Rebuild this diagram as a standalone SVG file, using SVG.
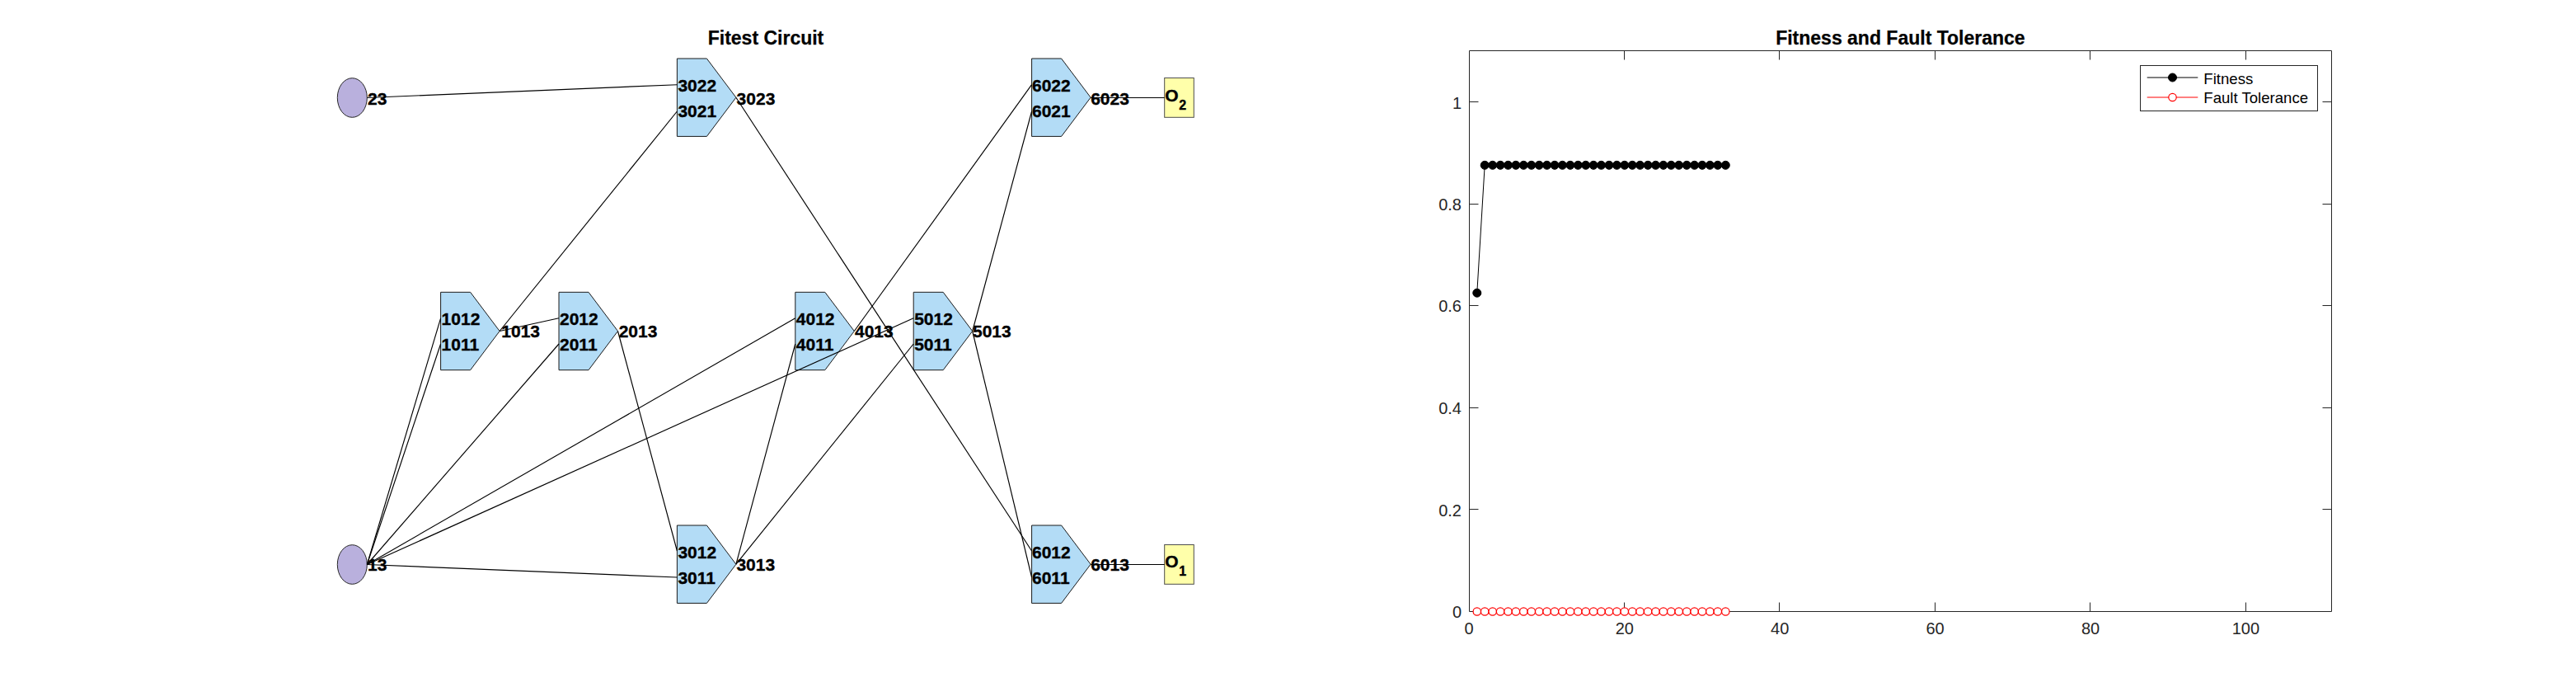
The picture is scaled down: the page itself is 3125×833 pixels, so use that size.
<svg xmlns="http://www.w3.org/2000/svg" width="3125" height="833" viewBox="0 0 3125 833">
<style>
text{font-family:"Liberation Sans",Arial,sans-serif;fill:#000}
.lb{font-size:21px;font-weight:bold;stroke:#000;stroke-width:.35}
.sub{font-size:16px;font-weight:bold;stroke:#000;stroke-width:.35}
.title{font-size:23px;font-weight:bold;text-anchor:middle;stroke:#000;stroke-width:.25}
.gate{fill:#b3dcf6;stroke:#1a1a1a;stroke-width:1}
.pi{fill:#b9b0dd;stroke:#262626;stroke-width:1}
.po{fill:#ffffaa;stroke:#4d4d4d;stroke-width:1}
.wire{fill:none;stroke:#000;stroke-width:1.15}
.ax{fill:none;stroke:#262626;stroke-width:1}
.tk{font-size:20px;fill:#262626}
.tx{text-anchor:middle}
.ty{text-anchor:end}
.lg{font-size:18.6px;fill:#000}
</style>
<defs>
<polygon id="gateShape" class="gate" points="0,0 36,0 71.5,47.2 36,94.4 0,94.4"/>
<circle id="fit" r="5" fill="#000" stroke="#000"/>
<circle id="ft" r="4.7" fill="#fff" stroke="#f00" stroke-width="1.2"/>
</defs>
<rect width="3125" height="833" fill="#fff"/>
<text class="title" x="929" y="53.6">Fitest Circuit</text>
<g id="nodes">
<g id="input23"><ellipse class="pi" cx="427.3" cy="118.5" rx="18" ry="23.8"/><text class="lb" x="446" y="126.7">23</text></g>
<g id="input13"><ellipse class="pi" cx="427.3" cy="684.5" rx="18" ry="23.8"/><text class="lb" x="446" y="692">13</text></g>
<g id="gate1"><use href="#gateShape" x="534.6" y="354.3"/><text class="lb" x="535.6" y="393.7">1012</text><text class="lb" x="535.6" y="425">1011</text><text class="lb" x="608.3" y="408.7">1013</text></g>
<g id="gate2"><use href="#gateShape" x="678" y="354.3"/><text class="lb" x="679" y="393.7">2012</text><text class="lb" x="679" y="425">2011</text><text class="lb" x="750.7" y="408.7">2013</text></g>
<g id="gate3top"><use href="#gateShape" x="821.4" y="71"/><text class="lb" x="822.4" y="110.7">3022</text><text class="lb" x="822.4" y="142">3021</text><text class="lb" x="893.6" y="126.7">3023</text></g>
<g id="gate3bottom"><use href="#gateShape" x="821.4" y="637"/><text class="lb" x="822.4" y="676.7">3012</text><text class="lb" x="822.4" y="708">3011</text><text class="lb" x="893.4" y="691.8">3013</text></g>
<g id="gate4"><use href="#gateShape" x="964.8" y="354.3"/><text class="lb" x="965.8" y="393.7">4012</text><text class="lb" x="965.8" y="425">4011</text><text class="lb" x="1037" y="408.7">4013</text></g>
<g id="gate5"><use href="#gateShape" x="1108.2" y="354.3"/><text class="lb" x="1109.2" y="393.7">5012</text><text class="lb" x="1109.2" y="425">5011</text><text class="lb" x="1180" y="408.7">5013</text></g>
<g id="gate6top"><use href="#gateShape" x="1251.6" y="71"/><text class="lb" x="1252" y="110.7">6022</text><text class="lb" x="1252" y="142">6021</text><text class="lb" x="1323.2" y="126.7">6023</text></g>
<g id="gate6bottom"><use href="#gateShape" x="1251.6" y="637"/><text class="lb" x="1252" y="676.7">6012</text><text class="lb" x="1252" y="708">6011</text><text class="lb" x="1323.2" y="691.8">6013</text></g>
<g id="outputO2"><rect class="po" x="1412.7" y="94.5" width="35.6" height="47.8"/><text class="lb" x="1413.3" y="122.7">O</text><text class="sub" x="1430.3" y="132.5">2</text></g>
<g id="outputO1"><rect class="po" x="1412.7" y="660.5" width="35.6" height="47.8"/><text class="lb" x="1413.3" y="687.7">O</text><text class="sub" x="1430.3" y="697.7">1</text></g>
</g>
<g id="connectors" class="wire">
<line x1="445.3" y1="118.5" x2="821.4" y2="102.7"/>
<line x1="606.1" y1="401.5" x2="821.4" y2="135"/>
<line x1="606.1" y1="401.5" x2="678" y2="385.8"/>
<line x1="445.3" y1="684.5" x2="534.6" y2="385.8"/>
<line x1="445.3" y1="684.5" x2="534.6" y2="417"/>
<line x1="445.3" y1="684.5" x2="678" y2="417"/>
<line x1="445.3" y1="684.5" x2="964.8" y2="385.8"/>
<line x1="445.3" y1="684.5" x2="1108.2" y2="385.8"/>
<line x1="445.3" y1="684.5" x2="821.4" y2="700"/>
<line x1="749.5" y1="401.5" x2="821.4" y2="668"/>
<line x1="892.9" y1="684.2" x2="964.8" y2="417"/>
<line x1="892.9" y1="684.2" x2="1108.2" y2="417"/>
<line x1="892.9" y1="118.2" x2="1251.6" y2="668"/>
<line x1="1036.3" y1="401.5" x2="1251.6" y2="102.7"/>
<line x1="1179.7" y1="401.5" x2="1251.6" y2="135"/>
<line x1="1179.7" y1="401.5" x2="1251.6" y2="700"/>
<line x1="1323.1" y1="118.5" x2="1412.7" y2="118.5"/>
<line x1="1323.1" y1="684.5" x2="1412.7" y2="684.5"/>
</g>
<g id="plot">
<path class="ax" d="M1782.5 61.5H2828.5V741.5H1782.5Z"/>
<path class="ax" d="M1970.5 741.5v-11M2158.5 741.5v-11M2347.5 741.5v-11M2535.5 741.5v-11M2724.5 741.5v-11M1970.5 61.5v11M2158.5 61.5v11M2347.5 61.5v11M2535.5 61.5v11M2724.5 61.5v11M1782.5 617.5h11M1782.5 494.5h11M1782.5 370.5h11M1782.5 247.5h11M1782.5 123.5h11M2828.5 617.5h-11M2828.5 494.5h-11M2828.5 370.5h-11M2828.5 247.5h-11M2828.5 123.5h-11"/>
<text class="title" x="2305.4" y="53.6">Fitness and Fault Tolerance</text>
<g>
<text class="tk tx" x="1782" y="769">0</text><text class="tk tx" x="1970.8" y="769">20</text><text class="tk tx" x="2159.2" y="769">40</text><text class="tk tx" x="2347.6" y="769">60</text><text class="tk tx" x="2536" y="769">80</text><text class="tk tx" x="2724.4" y="769">100</text>
<text class="tk ty" x="1773" y="749">0</text><text class="tk ty" x="1773" y="625.5">0.2</text><text class="tk ty" x="1773" y="502">0.4</text><text class="tk ty" x="1773" y="378">0.6</text><text class="tk ty" x="1773" y="255">0.8</text><text class="tk ty" x="1773" y="131.5">1</text>
</g>
<polyline fill="none" stroke="#000" stroke-width="1" points="1791.8,355.2 1801.2,200.3 2093.3,200.3"/>
<polyline fill="none" stroke="#f00" stroke-width="1" points="1791.8,741.5 2093.3,741.5"/>
<g id="fitness">
<use href="#fit" x="1791.8" y="355.2"/><use href="#fit" x="1801.2" y="200.3"/><use href="#fit" x="1810.7" y="200.3"/><use href="#fit" x="1820.1" y="200.3"/><use href="#fit" x="1829.5" y="200.3"/><use href="#fit" x="1838.9" y="200.3"/><use href="#fit" x="1848.3" y="200.3"/><use href="#fit" x="1857.8" y="200.3"/><use href="#fit" x="1867.2" y="200.3"/><use href="#fit" x="1876.6" y="200.3"/><use href="#fit" x="1886" y="200.3"/><use href="#fit" x="1895.4" y="200.3"/><use href="#fit" x="1904.9" y="200.3"/><use href="#fit" x="1914.3" y="200.3"/><use href="#fit" x="1923.7" y="200.3"/><use href="#fit" x="1933.1" y="200.3"/><use href="#fit" x="1942.5" y="200.3"/><use href="#fit" x="1952" y="200.3"/><use href="#fit" x="1961.4" y="200.3"/><use href="#fit" x="1970.8" y="200.3"/><use href="#fit" x="1980.2" y="200.3"/><use href="#fit" x="1989.6" y="200.3"/><use href="#fit" x="1999.1" y="200.3"/><use href="#fit" x="2008.5" y="200.3"/><use href="#fit" x="2017.9" y="200.3"/><use href="#fit" x="2027.3" y="200.3"/><use href="#fit" x="2036.7" y="200.3"/><use href="#fit" x="2046.2" y="200.3"/><use href="#fit" x="2055.6" y="200.3"/><use href="#fit" x="2065" y="200.3"/><use href="#fit" x="2074.4" y="200.3"/><use href="#fit" x="2083.8" y="200.3"/><use href="#fit" x="2093.3" y="200.3"/>
</g>
<g id="faultTolerance">
<use href="#ft" x="1791.8" y="741.5"/><use href="#ft" x="1801.2" y="741.5"/><use href="#ft" x="1810.7" y="741.5"/><use href="#ft" x="1820.1" y="741.5"/><use href="#ft" x="1829.5" y="741.5"/><use href="#ft" x="1838.9" y="741.5"/><use href="#ft" x="1848.3" y="741.5"/><use href="#ft" x="1857.8" y="741.5"/><use href="#ft" x="1867.2" y="741.5"/><use href="#ft" x="1876.6" y="741.5"/><use href="#ft" x="1886" y="741.5"/><use href="#ft" x="1895.4" y="741.5"/><use href="#ft" x="1904.9" y="741.5"/><use href="#ft" x="1914.3" y="741.5"/><use href="#ft" x="1923.7" y="741.5"/><use href="#ft" x="1933.1" y="741.5"/><use href="#ft" x="1942.5" y="741.5"/><use href="#ft" x="1952" y="741.5"/><use href="#ft" x="1961.4" y="741.5"/><use href="#ft" x="1970.8" y="741.5"/><use href="#ft" x="1980.2" y="741.5"/><use href="#ft" x="1989.6" y="741.5"/><use href="#ft" x="1999.1" y="741.5"/><use href="#ft" x="2008.5" y="741.5"/><use href="#ft" x="2017.9" y="741.5"/><use href="#ft" x="2027.3" y="741.5"/><use href="#ft" x="2036.7" y="741.5"/><use href="#ft" x="2046.2" y="741.5"/><use href="#ft" x="2055.6" y="741.5"/><use href="#ft" x="2065" y="741.5"/><use href="#ft" x="2074.4" y="741.5"/><use href="#ft" x="2083.8" y="741.5"/><use href="#ft" x="2093.3" y="741.5"/>
</g>
<g id="legend">
<rect x="2596.5" y="79.5" width="215" height="55" fill="#fff" stroke="#262626" stroke-width="1"/>
<line x1="2604.7" y1="94" x2="2666.3" y2="94" stroke="#000"/>
<use href="#fit" x="2635.5" y="94"/>
<line x1="2604.7" y1="118" x2="2666.3" y2="118" stroke="#f00"/>
<use href="#ft" x="2635.5" y="118"/>
<text class="lg" x="2673.3" y="101.5">Fitness</text>
<text class="lg" x="2673.3" y="125">Fault Tolerance</text>
</g>
</g>
</svg>
